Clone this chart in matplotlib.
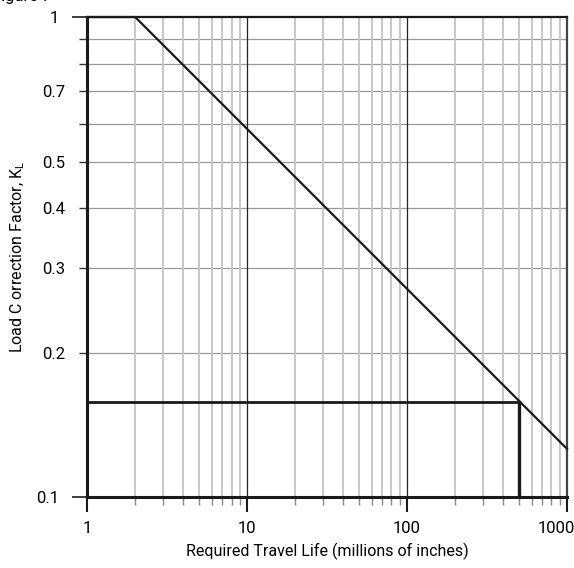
import matplotlib

matplotlib.use("Agg")
import matplotlib.pyplot as plt
from matplotlib.ticker import FixedLocator, FixedFormatter, NullFormatter
from matplotlib.transforms import ScaledTranslation

plt.rcParams.update(
    {
        "font.family": ["Roboto", "DejaVu Sans"],
        "mathtext.fontset": "custom",
        "mathtext.rm": "Roboto",
        "mathtext.it": "Roboto",
        "font.size": 11,
    }
)

# load correction curve (travel life in millions of inches -> K_L)
life = [1, 2, 1000]
k_load = [1.0, 1.0, 0.126]

# worked example: required life and the factor
example_life = 500
example_k = 0.158

x_major = [1, 10, 100, 1000]
x_minor = [m * d for d in (1, 10, 100) for m in range(2, 10)]
y_major = [0.1, 1]
y_minor = [0.2, 0.3, 0.4, 0.5, 0.6, 0.7, 0.8, 0.9]
y_minor_labels = ["0.2", "0.3", "0.4", "0.5", "", "0.7", "", ""]

fig = plt.figure(figsize=(5.74, 5.68), dpi=100)
ax = fig.add_axes([0.1516, 0.125, 0.8362, 0.845])
ax.set_xscale("log")
ax.set_yscale("log")
ax.set_xlim(1, 1000)
ax.set_ylim(0.1, 1)

# grid
for yv in y_minor:
    ax.axhline(yv, color="#9a9a9a", lw=0.9, zorder=1)
for xv in x_minor:
    ax.axvline(xv, color="#c4c4c4", lw=1.3, zorder=1)
for xv in (10, 100):
    ax.axvline(xv, color="#222222", lw=0.9, zorder=2)

ax.plot(life, k_load, color="#1a1a1a", lw=1.6, zorder=4, clip_on=False)
ax.plot([1, example_life], [example_k, example_k], color="#1a1a1a", lw=2.0, zorder=3)
ax.plot([example_life, example_life], [0.1, example_k], color="#1a1a1a", lw=2.4, zorder=3)

for side in ("left", "bottom"):
    ax.spines[side].set_linewidth(2.2)
    ax.spines[side].set_color("#1a1a1a")
ax.spines["top"].set_linewidth(1.6)
ax.spines["top"].set_color("#1a1a1a")
ax.spines["right"].set_linewidth(1.6)
ax.spines["right"].set_color("#444444")

ax.xaxis.set_major_locator(FixedLocator(x_major))
ax.xaxis.set_major_formatter(FixedFormatter([str(v) for v in x_major]))
ax.xaxis.set_minor_locator(FixedLocator(x_minor))
ax.xaxis.set_minor_formatter(NullFormatter())
ax.yaxis.set_major_locator(FixedLocator(y_major))
ax.yaxis.set_major_formatter(FixedFormatter(["0.1", "1"]))
ax.yaxis.set_minor_locator(FixedLocator(y_minor))
ax.yaxis.set_minor_formatter(FixedFormatter(y_minor_labels))

ax.tick_params(axis="x", which="major", length=11, width=1.5, color="#1a1a1a", pad=6, labelsize=12)
ax.tick_params(axis="x", which="minor", length=5.5, width=1.0, color="#888888")
ax.tick_params(axis="y", which="major", length=11, width=1.2, color="#1a1a1a", pad=9, labelsize=12)
ax.tick_params(axis="y", which="minor", length=6, width=1.0, color="#333333", pad=10, labelsize=12)

# keep the last x label inside the figure, like the original
fig.canvas.draw()
last = ax.xaxis.get_major_ticks()[-1].label1
last.set_horizontalalignment("right")
last.set_transform(last.get_transform() + ScaledTranslation(6 / 72, 0, fig.dpi_scale_trans))

ax.set_xlabel("Required Travel Life (millions of inches)", fontsize=11.5, labelpad=5)
ax.set_ylabel(r"Load C orrection Factor, K$_\mathregular{L}$", fontsize=11.5, labelpad=7)

fig.text(-0.014, 1 - 1.5 / 568, "Figure 7", fontsize=12, va="baseline", ha="left")

fig.savefig("out.png", dpi=100)
